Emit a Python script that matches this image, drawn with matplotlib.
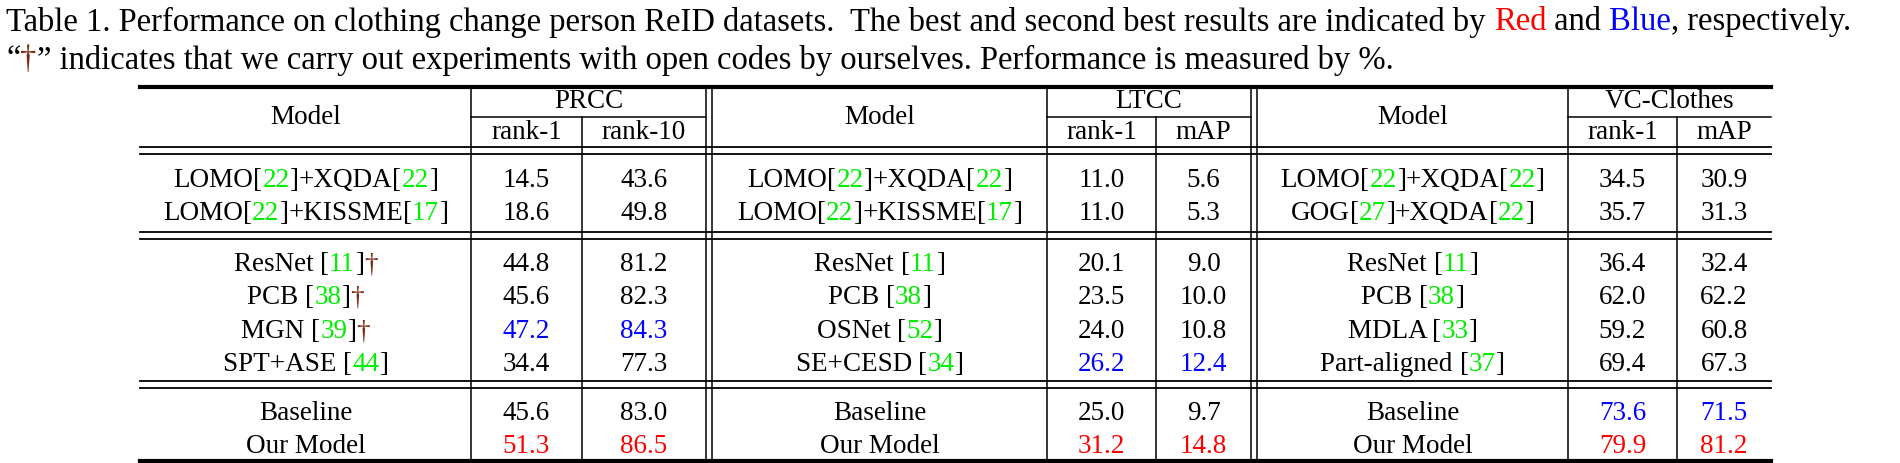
import re
import numpy as np
import matplotlib.pyplot as plt

plt.rcParams['font.family'] = ['Liberation Serif', 'DejaVu Serif']

RED, BLUE, GREEN, DAG = '#ff0000', '#0000ff', '#00ee00', '#7a2a10'

# table data
prcc_models = ["LOMO[22]+XQDA[22]", "LOMO[22]+KISSME[17]",
               "ResNet [11]†", "PCB [38]†", "MGN [39]†", "SPT+ASE [44]",
               "Baseline", "Our Model"]
prcc_rank1 = [14.5, 18.6, 44.8, 45.6, 47.2, 34.4, 45.6, 51.3]
prcc_rank10 = [43.6, 49.8, 81.2, 82.3, 84.3, 77.3, 83.0, 86.5]

ltcc_models = ["LOMO[22]+XQDA[22]", "LOMO[22]+KISSME[17]",
               "ResNet [11]", "PCB [38]", "OSNet [52]", "SE+CESD [34]",
               "Baseline", "Our Model"]
ltcc_rank1 = [11.0, 11.0, 20.1, 23.5, 24.0, 26.2, 25.0, 31.2]
ltcc_map = [5.6, 5.3, 9.0, 10.0, 10.8, 12.4, 9.7, 14.8]

vc_models = ["LOMO[22]+XQDA[22]", "GOG[27]+XQDA[22]",
             "ResNet [11]", "PCB [38]", "MDLA [33]", "Part-aligned [37]",
             "Baseline", "Our Model"]
vc_rank1 = [34.5, 35.7, 36.4, 62.0, 59.2, 69.4, 73.6, 79.9]
vc_map = [30.9, 31.3, 32.4, 62.2, 60.8, 67.3, 71.5, 81.2]

W, H = 1900, 464
fig = plt.figure(figsize=(W / 100, H / 100), dpi=100)
ax = fig.add_axes([0, 0, 1, 1])
ax.set_xlim(0, W)
ax.set_ylim(H, 0)
ax.axis('off')
renderer = fig.canvas.get_renderer()
FS = 19.5


def rich(x, y, segs, ha='center', fs=FS):
    texts = []
    for s, c in segs:
        t = ax.text(0, y, s, color=c, fontsize=fs, va='center', ha='left')
        texts.append(t)
    widths = [t.get_window_extent(renderer).width for t in texts]
    total = sum(widths)
    x0 = x - total / 2 if ha == 'center' else x
    for t, w in zip(texts, widths):
        t.set_x(x0)
        x0 += w


def name_segs(name):
    segs = []
    for part in re.split(r'(\[\d+\]|†)', name):
        if not part:
            continue
        if part == '†':
            segs.append((part, DAG))
        elif part.startswith('['):
            segs += [('[', 'black'), (part[1:-1], GREEN), (']', 'black')]
        else:
            segs.append((part, 'black'))
    return segs


def value_colors(vals):
    order = sorted(set(vals), reverse=True)
    return [RED if v == order[0] else BLUE if v == order[1] else 'black' for v in vals]


# caption
rich(6, 22, [("Table 1. Performance on clothing change person ReID datasets.  The best and second best results are indicated by ", 'black'),
             ("Red", RED), (" and ", 'black'), ("Blue", BLUE), (", respectively.", 'black')], ha='left', fs=23.5)
rich(6, 60, [("\u201c", 'black'), ("†", DAG), ("\u201d indicates that we carry out experiments with open codes by ourselves. Performance is measured by %.", 'black')],
     ha='left', fs=23.5)

# geometry
L, R = 140, 1771
vlines = [471, 582, 706, 712, 1047, 1156, 1251, 1257, 1568, 1677]
top, hmid, hb1, hb2 = 88, 118, 148, 155
rows_y = [181, 214, 265, 298, 332, 365, 414, 447]
seps = [(233, 240), (382, 389)]
bottom = 462

ax.plot([L, R], [top, top], color='black', lw=3)
ax.plot([L, R], [bottom, bottom], color='black', lw=3)
for yy in [hb1, hb2] + [s for p in seps for s in p]:
    ax.plot([L, R], [yy, yy], color='black', lw=1.3)
for x0, x1 in [(471, 706), (1047, 1251), (1568, R)]:
    ax.plot([x0, x1], [hmid, hmid], color='black', lw=1.1)
for xx in vlines:
    if xx in (582, 1156, 1677):
        ax.plot([xx, xx], [hmid, bottom], color='black', lw=1.1)
    else:
        ax.plot([xx, xx], [top, bottom], color='black', lw=1.1)

groups = [
    ("PRCC", ("rank-1", "rank-10"), prcc_models, prcc_rank1, prcc_rank10, (L, 471, 582, 706)),
    ("LTCC", ("rank-1", "mAP"), ltcc_models, ltcc_rank1, ltcc_map, (712, 1047, 1156, 1251)),
    ("VC-Clothes", ("rank-1", "mAP"), vc_models, vc_rank1, vc_map, (1257, 1568, 1677, R)),
]
for title, subs, models, c1, c2, (a, b, c, d) in groups:
    rich((a + b) / 2, (top + hb1) / 2, [("Model", 'black')])
    rich((b + d) / 2, (top + hmid) / 2 - 1, [(title, 'black')])
    rich((b + c) / 2, (hmid + hb1) / 2, [(subs[0], 'black')])
    rich((c + d) / 2, (hmid + hb1) / 2, [(subs[1], 'black')])
    col1, col2 = value_colors(c1), value_colors(c2)
    for i, y in enumerate(rows_y):
        rich((a + b) / 2, y, name_segs(models[i]))
        rich((b + c) / 2, y, [(f"{c1[i]:.1f}", col1[i])])
        rich((c + d) / 2, y, [(f"{c2[i]:.1f}", col2[i])])

fig.savefig('out.png', dpi=100)
